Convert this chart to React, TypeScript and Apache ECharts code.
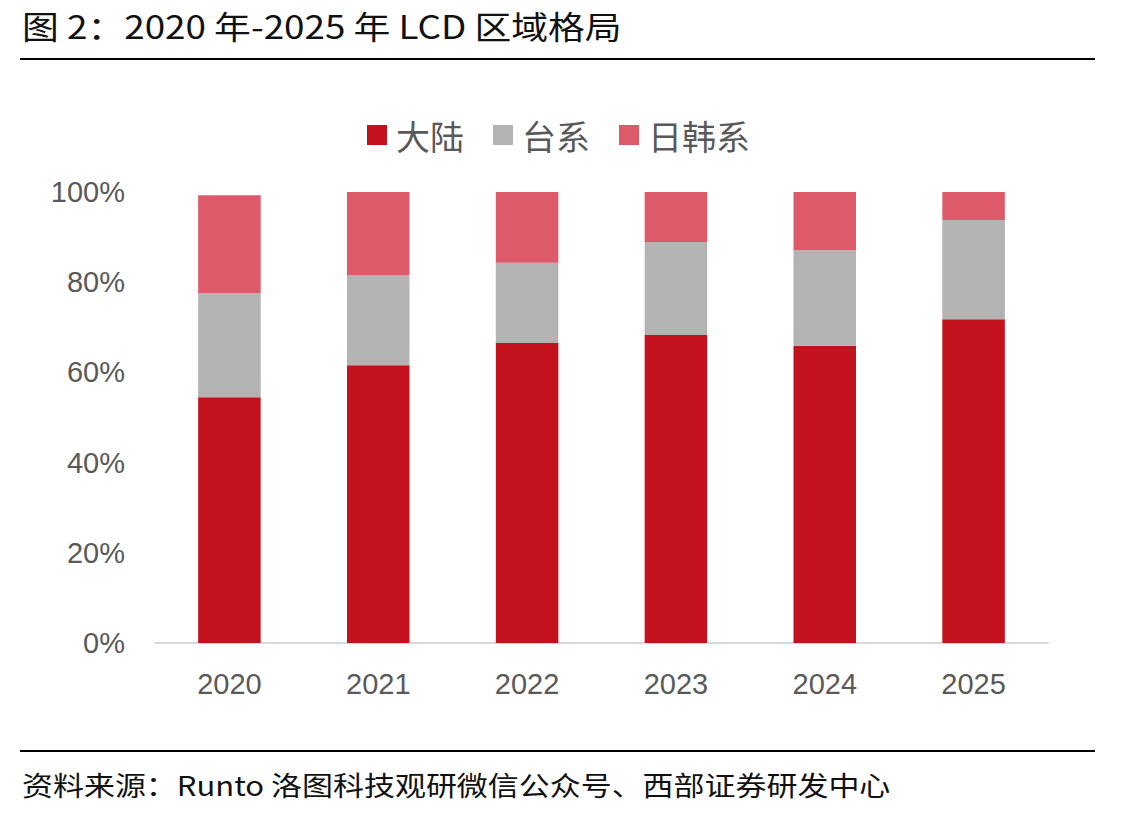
import React, { useEffect, useRef } from "react";
import * as echarts from "echarts";

const years = ["2020", "2021", "2022", "2023", "2024", "2025"];
const mainland = [54.5, 61.6, 66.5, 68.3, 65.9, 71.8];
const taiwan = [23.1, 20.0, 17.8, 20.6, 21.2, 22.0];
const japanKorea = [21.7, 18.4, 15.7, 11.1, 12.9, 6.2];
const seriesNames = ["大陆", "台系", "日韩系"];
const colors = ["#C3111E", "#B3B3B3", "#DD5A6A"];
const titleText = "图 2：2020 年-2025 年 LCD 区域格局";
const sourceText = "资料来源：Runto 洛图科技观研微信公众号、西部证券研发中心";

export default function App() {
  const ref = useRef<HTMLDivElement>(null);
  useEffect(() => {
    if (!ref.current) return;
    const chart = echarts.init(ref.current, null, { renderer: "svg" });
    const values = [mainland, taiwan, japanKorea];
    chart.setOption({
      animation: false,
      backgroundColor: "#ffffff",
      color: colors,
      legend: {
        data: seriesNames,
        left: 362,
        top: 113,
        itemWidth: 20,
        itemHeight: 20,
        itemGap: 29,
        icon: "rect",
        textStyle: {
          fontSize: 34,
          color: "#595959",
          fontFamily: "Noto Sans CJK SC",
          padding: [0, 0, 0, 4],
        },
      },
      grid: { left: 155, right: 96, top: 192, bottom: 174, containLabel: false },
      xAxis: {
        type: "category",
        data: years,
        axisLine: { lineStyle: { color: "#D9D9D9", width: 2 } },
        axisTick: { show: false },
        axisLabel: {
          fontSize: 29,
          color: "#595959",
          fontFamily: "Arial, Liberation Sans, sans-serif",
          margin: 26,
        },
      },
      yAxis: {
        type: "value",
        min: 0,
        max: 100,
        interval: 20,
        axisLine: { show: false },
        axisTick: { show: false },
        splitLine: { show: false },
        axisLabel: {
          formatter: "{value}%",
          fontSize: 29,
          color: "#595959",
          fontFamily: "Arial, Liberation Sans, sans-serif",
          margin: 30,
        },
      },
      series: seriesNames.map((name, i) => ({
        name,
        type: "bar",
        stack: "total",
        barWidth: "42%",
        data: values[i],
        itemStyle: { color: colors[i] },
      })),
      graphic: [
        {
          type: "text",
          x: 22,
          y: 25,
          scaleX: 1.15,
          style: {
            text: titleText,
            fontSize: 32,
            fill: "#111111",
            fontFamily: "Noto Sans CJK SC",
            verticalAlign: "middle",
            align: "left",
          },
        },
        {
          type: "line",
          shape: { x1: 20, y1: 59, x2: 1095, y2: 59 },
          style: { stroke: "#000000", lineWidth: 2 },
        },
        {
          type: "line",
          shape: { x1: 20, y1: 751, x2: 1095, y2: 751 },
          style: { stroke: "#000000", lineWidth: 2 },
        },
        {
          type: "text",
          x: 22,
          y: 784,
          scaleX: 1.147,
          style: {
            text: sourceText,
            fontSize: 27,
            fill: "#111111",
            fontFamily: "Noto Sans CJK SC",
            verticalAlign: "middle",
            align: "left",
          },
        },
      ],
    });
    return () => chart.dispose();
  }, []);
  return (
    <div
      ref={ref}
      style={{ position: "absolute", left: 0, top: 0, width: 1144, height: 817 }}
    />
  );
}
